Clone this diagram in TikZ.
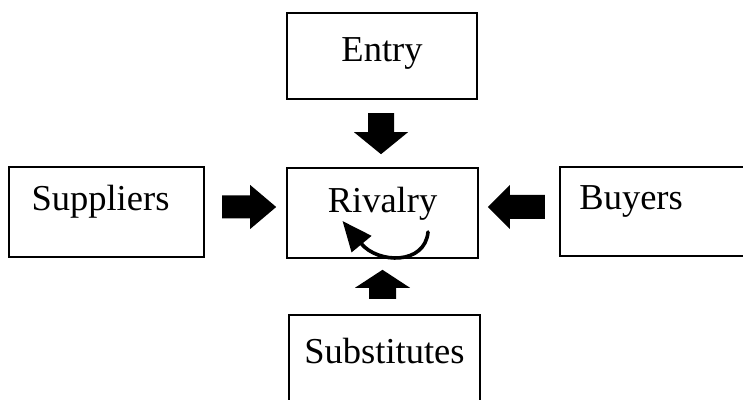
\documentclass[tikz,border=0pt]{standalone}
\usepackage{fontspec}
\setmainfont{Liberation Serif}
\usetikzlibrary{arrows.meta}

\tikzset{
  box/.style={draw=black, line width=1.6pt, rectangle, inner sep=0pt},
  lbl/.style={font=\fontsize{36.5}{40}\selectfont, inner sep=0pt},
  pics/blockarr/.style n args={4}{code={%
    % tip at origin, pointing along +x: total length, head length, head half-width, shaft half-width
    \fill[black] (0,0) -- (-#2,#3) -- (-#2,#4) -- (-#1,#4) -- (-#1,-#4)
      -- (-#2,-#4) -- (-#2,-#3) -- cycle;}}
}

\begin{document}
\begin{tikzpicture}[x=1pt, y=1pt]
\useasboundingbox (0,0) rectangle (743,399);
\clip (0,0) rectangle (743,399);

% the five boxes
\node[box, minimum width=190pt, minimum height=86pt] (entry) at (382,343) {};
\node[box, minimum width=191pt, minimum height=90pt] (riv)   at (382.5,186) {};
\node[box, minimum width=195pt, minimum height=90pt] (sup)   at (106.5,187) {};
\node[box, minimum width=190pt, minimum height=89pt] (buy)   at (655,187.5) {};
\node[box, minimum width=191pt, minimum height=90pt] (subs)  at (384.5,39) {};

% box texts
\node[lbl, anchor=base] (entryT) at ([yshift=-49pt]entry.north) {Entry};
\node[lbl, anchor=base] (rivT)   at ([yshift=-45pt]riv.north) {Rivalry};
\node[lbl, anchor=base] (supT)   at ([xshift=-6pt, yshift=-44pt]sup.north) {Suppliers};
\node[lbl, anchor=base west] (buyT) at ([xshift=20pt, yshift=-43pt]buy.north west) {Buyers};
\node[lbl, anchor=base] (subsT)  at ([yshift=-49pt]subs.north) {Substitutes};

% block arrows pointing at the rivalry box
\coordinate (tipW) at ([xshift=-10pt, yshift=6pt]riv.west);
\coordinate (tipE) at ([xshift=9pt, yshift=6pt]riv.east);
\coordinate (tipN) at ([xshift=-1.5pt, yshift=13pt]riv.north);
\coordinate (tipS) at ([yshift=-11pt]riv.south);

\pic[rotate=0]   at (tipW) {blockarr={54}{26}{22}{11.5}};
\pic[rotate=180] at (tipE) {blockarr={57}{22}{22}{12}};
\pic[rotate=-90] at (tipN) {blockarr={41}{22}{27}{13}};
\pic[rotate=90]  at (tipS) {blockarr={29}{18}{27.5}{13.5}};

% curved arrow inside the rivalry box
\begin{scope}[shift={(riv.center)}]
  \draw[line width=3.6pt, line cap=round, -{Triangle[length=30pt, width=25pt]}]
    (45.5,-19) .. controls (42.5,-52) and (-4.5,-51) .. (-40,-8);
\end{scope}
\end{tikzpicture}
\end{document}
